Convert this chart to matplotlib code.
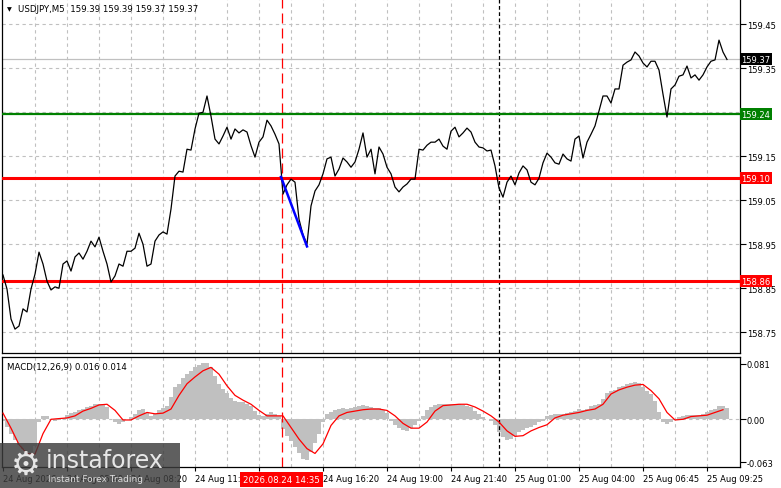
import numpy as np
import matplotlib
matplotlib.use('Agg')
import matplotlib.pyplot as plt
from matplotlib.patches import Rectangle
import matplotlib.transforms as mtransforms

# ---------------- data ----------------
# closes, one value every 2 M5 bars
close = [
    158.880, 158.848, 158.780, 158.757, 158.764, 158.803, 158.796, 158.848, 158.882, 158.932,
    158.905, 158.866, 158.846, 158.853, 158.850, 158.905, 158.912, 158.889, 158.921, 158.930,
    158.916, 158.934, 158.957, 158.944, 158.966, 158.934, 158.905, 158.864, 158.878, 158.905,
    158.900, 158.934, 158.934, 158.941, 158.975, 158.950, 158.900, 158.905, 158.957, 158.971,
    158.978, 158.973, 159.030, 159.105, 159.116, 159.114, 159.166, 159.164, 159.212, 159.248,
    159.250, 159.287, 159.241, 159.189, 159.178, 159.196, 159.216, 159.189, 159.212, 159.203,
    159.210, 159.205, 159.174, 159.148, 159.182, 159.194, 159.232, 159.219, 159.200, 159.178,
    159.064, 159.085, 159.098, 159.091, 159.007, 158.971, 158.950, 159.037, 159.071, 159.085,
    159.110, 159.144, 159.148, 159.105, 159.121, 159.146, 159.137, 159.125, 159.137, 159.166,
    159.203, 159.148, 159.166, 159.110, 159.171, 159.155, 159.125, 159.110, 159.080, 159.069,
    159.080, 159.087, 159.098, 159.098, 159.166, 159.164, 159.175, 159.182, 159.182, 159.189,
    159.173, 159.166, 159.207, 159.216, 159.194, 159.203, 159.214, 159.205, 159.182, 159.171,
    159.169, 159.162, 159.164, 159.128, 159.078, 159.057, 159.091, 159.105, 159.085, 159.112,
    159.128, 159.119, 159.091, 159.085, 159.100, 159.135, 159.157, 159.148, 159.135, 159.132,
    159.155, 159.144, 159.139, 159.189, 159.196, 159.146, 159.182, 159.200, 159.219, 159.253,
    159.287, 159.287, 159.271, 159.303, 159.303, 159.357, 159.364, 159.369, 159.387, 159.378,
    159.362, 159.353, 159.366, 159.366, 159.346, 159.291, 159.239, 159.303, 159.312, 159.332,
    159.335, 159.355, 159.328, 159.335, 159.323, 159.335, 159.353, 159.366, 159.369, 159.414,
    159.387, 159.370,
]
# MACD histogram (thousandths), same sampling as close
hist_milli = [
    -2, -12, -22, -30, -37, -43, -48, -51, -39, -4,
    5, 5, 0, -2, -1, 2, 7, 9, 10, 13,
    15, 18, 20, 22, 23, 23, 18, 0, -4, -7,
    -4, 0, 4, 8, 13, 15, 9, 5, 8, 14,
    16, 19, 32, 47, 52, 61, 67, 71, 76, 79,
    82, 83, 76, 64, 52, 44, 38, 31, 27, 26,
    25, 22, 19, 12, 6, 5, 8, 10, 8, 5,
    -14, -24, -32, -41, -50, -58, -60, -48, -34, -21,
    -4, 8, 10, 14, 15, 16, 15, 17, 18, 20,
    21, 19, 18, 17, 16, 14, 9, -2, -8, -13,
    -16, -17, -13, -8, -2, 5, 14, 18, 21, 22,
    23, 23, 23, 22, 22, 21, 20, 18, 12, 8,
    4, 0, -3, -9, -19, -26, -30, -29, -24, -19,
    -16, -13, -11, -8, -4, -2, 5, 7, 8, 8,
    8, 9, 10, 12, 15, 14, 15, 20, 21, 22,
    30, 38, 41, 43, 47, 49, 51, 53, 54, 53,
    47, 42, 37, 27, 10, -4, -7, -4, -1, 3,
    5, 7, 6, 6, 7, 8, 10, 13, 15, 19,
    20, 16,
]
# MACD signal line (thousandths), one value every 4 bars
signal_milli = [
    9, -13, -37, -50, -51, -21, 0, 1, 2, 5,
    12, 16, 21, 22, 13, -1, -1, 5, 10, 8,
    9, 15, 35, 52, 62, 71, 76, 66, 49, 35,
    28, 22, 13, 5, 5, 5, -12, -29, -43, -50,
    -36, -9, 5, 10, 12, 14, 15, 15, 13, 5,
    -6, -13, -13, -4, 12, 20, 21, 22, 22, 18,
    12, 5, -4, -17, -25, -24, -17, -12, -8, 2,
    6, 8, 10, 13, 15, 22, 37, 43, 47, 50,
    51, 42, 30, 10, -1, 0, 4, 5, 6, 10,
    14,
]

price_ticks = [159.45, 159.35, 159.25, 159.15, 159.05, 158.95, 158.85, 158.75]
# 159.25 is hidden behind the green level box in the reference
price_tick_labels = ['159.45', '159.35', '', '159.15', '159.05', '158.95', '158.85', '158.75']
levels = [159.245, 159.10, 158.866]
level_labels = ['159.24', '159.10', '158.86']
level_colors = ['#008000', '#ff0000', '#ff0000']
level_widths = [1.6, 2.2, 2.2]
last_price = 159.37
last_label = '159.37'
trend_bars = [139, 152]
trend_prices = [159.103, 158.945]
marker_bar = 139.3
marker_label = '2026.08.24 14:35'
separator_bar = 248.2
grid_bars = list(range(16, 353, 16))
time_tick_bars = [0, 32, 64, 96, 128, 160, 192, 224, 256, 288, 320, 352]
# the 13:40 label is covered by the red time box in the reference
time_tick_labels = ['24 Aug 2026', '24 Aug 05:40', '24 Aug 08:20', '24 Aug 11:00',
                    '', '24 Aug 16:20', '24 Aug 19:00', '24 Aug 21:40',
                    '25 Aug 01:00', '25 Aug 04:00', '25 Aug 06:45', '25 Aug 09:25']
macd_ticks = [0.081, 0.0, -0.063]
macd_tick_labels = ['0.081', '0.00', '-0.063']
title = 'USDJPY,M5  159.39 159.39 159.37 159.37'
macd_title = 'MACD(12,26,9) 0.016 0.014'

# ---------------- figure ----------------
plt.rcParams['font.family'] = ['DejaVu Sans']
W, H = 781, 489
fig = plt.figure(figsize=(W / 100, H / 100), dpi=100)
fig.patch.set_facecolor('white')


def rect(l, t, r, b):
    return [l / W, 1 - b / H, (r - l) / W, (b - t) / H]


ax = fig.add_axes(rect(2, 0, 740, 354.3))
ax2 = fig.add_axes(rect(2, 357.5, 740, 467.7))

x_close = np.arange(len(close)) * 2
x_sig = np.arange(len(signal_milli)) * 4
hist = np.array(hist_milli) / 1000.0
signal = np.array(signal_milli) / 1000.0

grid_kw = dict(color='#c0c0c0', lw=0.8, ls=(0, (3, 3)), zorder=0)

# main panel
for b in grid_bars:
    ax.axvline(b, **grid_kw)
for p in price_ticks:
    ax.axhline(p, **grid_kw)
ax.axhline(last_price, color='#c0c0c0', lw=0.9, zorder=1)
for lv, c, w in zip(levels, level_colors, level_widths):
    ax.axhline(lv, color=c, lw=w, zorder=3)
ax.axvline(marker_bar, color='#ff0000', lw=0.9, ls=(0, (8, 4)), zorder=2)
ax.axvline(separator_bar, color='black', lw=0.9, ls=(0, (3, 2)), zorder=2)
ax.plot(x_close, close, color='black', lw=0.9, zorder=4)
ax.plot(trend_bars, trend_prices, color='#0000ff', lw=1.8, zorder=5)

ax.set_xlim(-0.5, 368.5)
ax.set_ylim(158.702, 159.5075)
ax.set_xticks([])
ax.yaxis.tick_right()
ax.set_yticks(price_ticks)
ax.set_yticklabels(price_tick_labels)
ax.tick_params(axis='y', length=4, pad=1, labelsize=6, width=0.8)
ax.spines['top'].set_visible(False)
for s in ['left', 'right', 'bottom']:
    ax.spines[s].set_color('black')
    ax.spines[s].set_linewidth(0.9)

trans = mtransforms.blended_transform_factory(ax.transAxes, ax.transData)
box_x = 1.0 + 1.5 / 738
ax.text(box_x, last_price, last_label, transform=trans, ha='left', va='center',
        fontsize=6, color='white', zorder=10, clip_on=False,
        bbox=dict(boxstyle='square,pad=0.18', fc='black', ec='none'))
for lv, lab, c in zip(levels, level_labels, level_colors):
    ax.text(box_x, lv, lab, transform=trans, ha='left', va='center',
            fontsize=6, color='white', zorder=10, clip_on=False,
            bbox=dict(boxstyle='square,pad=0.18', fc=c, ec='none'))

fig.text(7 / W, 1 - 10 / H, '▼', fontsize=4.5, va='center', ha='left', color='black')
fig.text(18.5 / W, 1 - 10 / H, title, fontsize=6.2, va='center', ha='left', color='black')

# MACD panel
for b in grid_bars:
    ax2.axvline(b, **grid_kw)
ax2.axhline(0, **grid_kw)
ax2.bar(x_close, hist, width=2.0, color='#c0c0c0', edgecolor='none', zorder=1)
ax2.plot(x_sig, signal, color='#ff0000', lw=0.9, zorder=3)
ax2.axvline(marker_bar, color='#ff0000', lw=0.9, ls=(0, (8, 4)), zorder=2)
ax2.axvline(separator_bar, color='black', lw=0.9, ls=(0, (3, 2)), zorder=2)
ax2.set_xlim(-0.5, 368.5)
ax2.set_ylim(-0.0694, 0.0919)
ax2.yaxis.tick_right()
ax2.set_yticks(macd_ticks)
ax2.set_yticklabels(macd_tick_labels)
ax2.tick_params(axis='y', length=4, pad=1, labelsize=6, width=0.8)
ax2.set_xticks(time_tick_bars)
ax2.set_xticklabels(time_tick_labels, ha='left')
ax2.tick_params(axis='x', length=3, pad=2, labelsize=6, width=0.8)
for s in ax2.spines.values():
    s.set_color('black')
    s.set_linewidth(0.9)

ax2.text(0.0065, 0.91, macd_title, transform=ax2.transAxes, fontsize=6.2,
         ha='left', va='center', color='black', zorder=10)

trans2 = mtransforms.blended_transform_factory(ax2.transData, ax2.transAxes)
ax2.text(marker_bar, -0.075, marker_label, transform=trans2, ha='center', va='top',
         fontsize=6.2, color='white', zorder=10, clip_on=False,
         bbox=dict(boxstyle='square,pad=0.35', fc='#ff0000', ec='none'))

# watermark
fig.patches.append(Rectangle((0, 0), 180 / W, 45 / H, transform=fig.transFigure,
                             fc='#3c3c3c', ec='none', alpha=0.82, zorder=20))
fig.text(11 / W, 1 - 465 / H, '⚙', fontsize=24, color='white', alpha=0.85,
         ha='left', va='center', zorder=21)
fig.text(46 / W, 1 - 461 / H, 'instaforex', fontsize=17, color='white', alpha=0.85,
         ha='left', va='center', zorder=21)
fig.text(48 / W, 1 - 480 / H, 'Instant Forex Trading', fontsize=6.5, color='white',
         alpha=0.8, ha='left', va='center', zorder=21)

fig.savefig('out.png', dpi=100)
